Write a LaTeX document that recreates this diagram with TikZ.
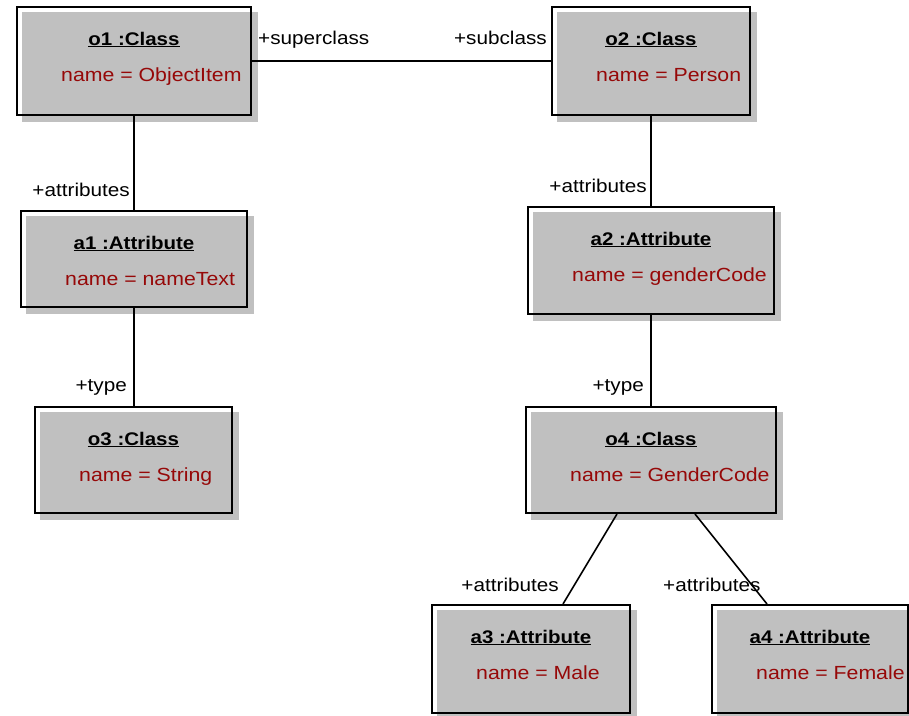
\documentclass[tikz,border=0pt]{standalone}
\usepackage{fontspec}
\setmainfont{Liberation Sans}[FakeStretch=1.12]
\usetikzlibrary{calc}
\definecolor{boxgray}{RGB}{192,192,192}
\definecolor{valred}{RGB}{150,8,8}
\tikzset{
  x=1pt, y=-1pt,
  frame/.style={draw=black, line width=2pt, inner sep=0pt, fill=none},
  shade/.style={fill=boxgray, draw=none},
  title/.style={anchor=base, inner sep=0pt, font=\fontsize{18.3}{20}\selectfont\bfseries},
  value/.style={anchor=base west, inner sep=0pt, text=valred, font=\fontsize{19}{21}\selectfont},
  role/.style={inner sep=0pt, font=\fontsize{18.5}{20}\selectfont},
  link/.style={draw=black, line width=1.6pt},
}
% \objbox{name}{left}{top}{right}{bottom}{title}{value}
\newcommand{\objbox}[7]{%
  \fill[shade] (#2+5,#3+5) rectangle (#4+7,#5+7);
  \node[frame, minimum width=#4-#2, minimum height=#5-#3] (#1) at ({(#2+#4)/2},{(#3+#5)/2}) {};
  \node[title] (#1t) at ({(#2+#4)/2},#3+38) {\underline{#6}};
  \node[value] (#1v) at (#2+44,#3+74) {#7};
}
\begin{document}
\begin{tikzpicture}
\useasboundingbox (0,0) rectangle (909,715);

\objbox{o1}{17}{7}{251}{115}{o1 :Class}{name = ObjectItem}
\objbox{o2}{552}{7}{750}{115}{o2 :Class}{name = Person}
\objbox{a1}{21}{211}{247}{307}{a1 :Attribute}{name = nameText}
\objbox{a2}{528}{207}{774}{314}{a2 :Attribute}{name = genderCode}
\objbox{o3}{35}{407}{232}{513}{o3 :Class}{name = String}
\objbox{o4}{526}{407}{776}{513}{o4 :Class}{name = GenderCode}
\objbox{a3}{432}{605}{630}{713}{a3 :Attribute}{name = Male}
\objbox{a4}{712}{605}{908}{713}{a4 :Attribute}{name = Female}

% associations
\draw[link] (o1.east) -- (o2.west);
\draw[link] (o1.south) -- (o1.south |- a1.north);
\draw[link] (o1.south |- a1.south) -- (o1.south |- o3.north);
\draw[link] (o2.south) -- (o2.south |- a2.north);
\draw[link] (o2.south |- a2.south) -- (o2.south |- o4.north);
\draw[link] ([xshift=-34pt]o4.south) -- ([xshift=32pt]a3.north);
\draw[link] ([xshift=44pt]o4.south) -- ([xshift=-43pt]a4.north);

% role names
\node[role, anchor=base west] (r1) at (258,44) {+superclass};
\node[role, anchor=base east] (r2) at (547,44) {+subclass};
\node[role, anchor=base east] (r3) at (130,196) {+attributes};
\node[role, anchor=base east] (r4) at (127,391) {+type};
\node[role, anchor=base east] (r5) at (647,192) {+attributes};
\node[role, anchor=base east] (r6) at (644,391) {+type};
\node[role, anchor=base east] (r7) at (559,591) {+attributes};
\node[role, anchor=base west] (r8) at (663,591) {+attributes};
\end{tikzpicture}
\end{document}
